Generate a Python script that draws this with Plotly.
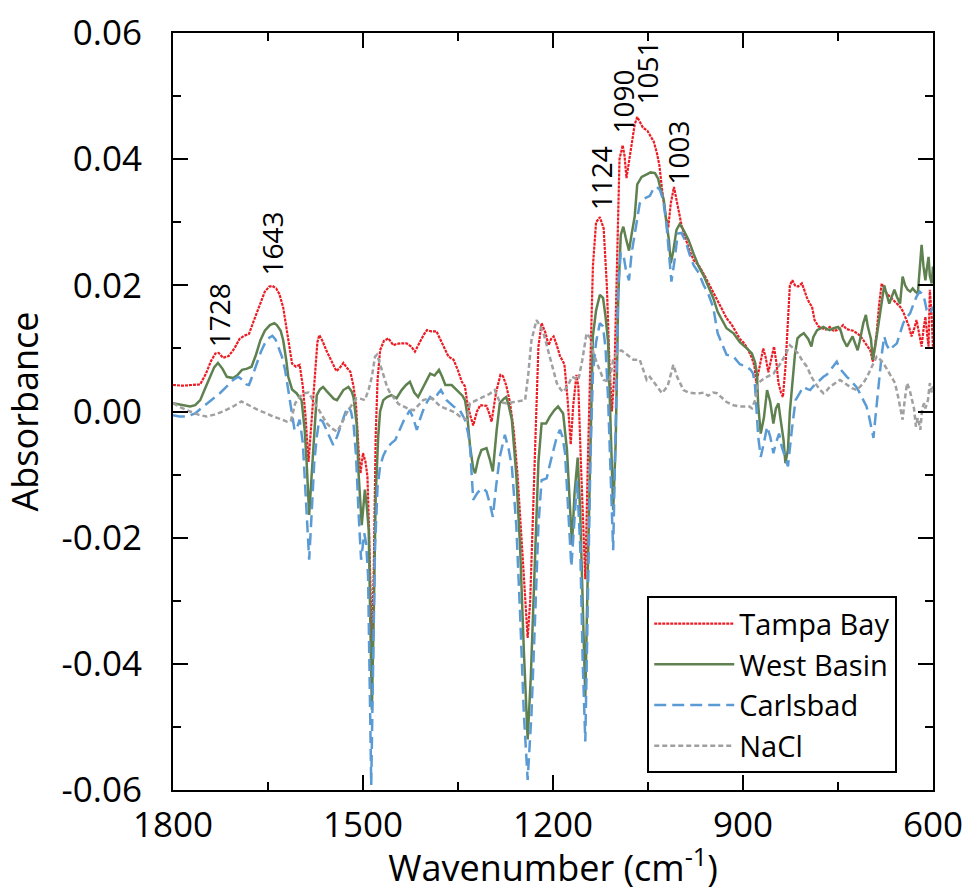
import plotly.graph_objects as go

# ---- spectra (wavenumber in cm-1, absorbance) ----
tampa_wn = [1800, 1785, 1770, 1757, 1748, 1740, 1733, 1728, 1721, 1712, 1703, 1695, 1688, 1680, 1672, 1662, 1655, 1648, 1643, 1637,
            1632, 1626, 1621, 1616, 1612, 1606, 1600, 1595, 1591, 1586, 1581, 1577, 1572, 1569, 1564, 1558, 1550, 1542, 1536, 1531,
            1526, 1520, 1515, 1511, 1507, 1504, 1500, 1496, 1493, 1490, 1486, 1483, 1480, 1477, 1473, 1467, 1460, 1452, 1447, 1441,
            1431, 1424, 1418, 1410, 1404, 1399, 1392, 1384, 1376, 1365, 1357, 1350, 1344, 1339, 1336, 1331, 1326, 1320, 1315, 1305,
            1300, 1297, 1290, 1283, 1279, 1274, 1268, 1262, 1256, 1249, 1244, 1240, 1236, 1231, 1227, 1223, 1218, 1212, 1207, 1203,
            1199, 1194, 1189, 1182, 1177, 1172, 1168, 1163, 1160, 1156, 1152, 1149, 1145, 1141, 1137, 1132, 1126, 1120, 1115, 1111,
            1107, 1103, 1099, 1095, 1090, 1087, 1084, 1080, 1076, 1071, 1067, 1062, 1058, 1051, 1046, 1041, 1036, 1032, 1027, 1022,
            1018, 1014, 1009, 1006, 1002, 997, 990, 984, 978, 970, 962, 955, 947, 940, 932, 926, 918, 910, 905, 898,
            892, 886, 882, 879, 874, 868, 864, 860, 855, 851, 847, 844, 840, 837, 833, 830, 826, 822, 818, 813,
            807, 803, 799, 795, 791, 787, 781, 775, 769, 763, 757, 752, 747, 742, 737, 731, 726, 720, 715, 710,
            704, 699, 695, 692, 689, 685, 681, 677, 673, 668, 663, 657, 652, 647, 642, 638, 634, 630, 626, 622,
            618, 615, 612, 609, 607, 605, 602, 600]
tampa_abs = [0.0042, 0.0041, 0.0042, 0.0043, 0.0060, 0.0080, 0.0092, 0.0093, 0.0085, 0.0088, 0.0100, 0.0115, 0.0120, 0.0123, 0.0145, 0.0172, 0.0190, 0.0198, 0.0199, 0.0195,
             0.0186, 0.0165, 0.0135, 0.0100, 0.0076, 0.0071, 0.0074, 0.0040, -0.0005, -0.0080, -0.0010, 0.0045, 0.0110, 0.0121, 0.0112, 0.0097, 0.0080, 0.0064, 0.0070, 0.0077,
             0.0070, 0.0063, 0.0040, 0.0010, -0.0060, -0.0098, -0.0066, -0.0080, -0.0103, -0.0200, -0.0380, -0.0250, -0.0040, 0.0050, 0.0097, 0.0112, 0.0116, 0.0105, 0.0107, 0.0108,
             0.0108, 0.0103, 0.0095, 0.0111, 0.0122, 0.0129, 0.0127, 0.0127, 0.0110, 0.0087, 0.0082, 0.0065, 0.0047, 0.0040, 0.0018, -0.0005, -0.0022, 0.0000, 0.0010, 0.0009,
             -0.0005, -0.0016, 0.0030, 0.0058, 0.0056, 0.0042, 0.0015, -0.0030, -0.0100, -0.0214, -0.0310, -0.0359, -0.0300, -0.0161, -0.0020, 0.0103, 0.0140, 0.0125, 0.0105, 0.0115,
             0.0119, 0.0105, 0.0088, 0.0075, 0.0020, -0.0052, 0.0010, 0.0058, 0.0040, -0.0080, -0.0200, -0.0266, -0.0080, 0.0080, 0.0230, 0.0300, 0.0308, 0.0290, 0.0200, 0.0080,
             0.0000, 0.0060, 0.0250, 0.0400, 0.0422, 0.0405, 0.0370, 0.0395, 0.0420, 0.0455, 0.0467, 0.0458, 0.0450, 0.0445, 0.0437, 0.0428, 0.0410, 0.0390, 0.0345, 0.0310,
             0.0292, 0.0330, 0.0356, 0.0340, 0.0319, 0.0295, 0.0272, 0.0254, 0.0240, 0.0232, 0.0218, 0.0205, 0.0190, 0.0175, 0.0160, 0.0148, 0.0138, 0.0124, 0.0115, 0.0108,
             0.0098, 0.0085, 0.0072, 0.0045, 0.0070, 0.0100, 0.0085, 0.0062, 0.0085, 0.0103, 0.0075, 0.0045, 0.0030, 0.0023, 0.0070, 0.0124, 0.0200, 0.0208, 0.0200, 0.0198,
             0.0203, 0.0192, 0.0180, 0.0172, 0.0166, 0.0145, 0.0135, 0.0132, 0.0130, 0.0134, 0.0128, 0.0129, 0.0132, 0.0137, 0.0131, 0.0129, 0.0128, 0.0124, 0.0120, 0.0113,
             0.0105, 0.0097, 0.0079, 0.0100, 0.0124, 0.0170, 0.0203, 0.0195, 0.0187, 0.0182, 0.0177, 0.0172, 0.0166, 0.0158, 0.0145, 0.0135, 0.0119, 0.0130, 0.0145, 0.0125,
             0.0103, 0.0130, 0.0150, 0.0120, 0.0103, 0.0193, 0.0150, 0.0100]

west_wn = [1800, 1785, 1773, 1765, 1757, 1750, 1742, 1735, 1729, 1722, 1715, 1705, 1698, 1691, 1683, 1676, 1669, 1662, 1655, 1647,
           1640, 1636, 1630, 1626, 1621, 1618, 1612, 1605, 1597, 1592, 1589, 1585, 1581, 1577, 1573, 1568, 1563, 1557, 1552, 1546,
           1541, 1536, 1531, 1523, 1518, 1515, 1510, 1507, 1502, 1497, 1494, 1491, 1488, 1486, 1483, 1480, 1476, 1473, 1468, 1462,
           1455, 1447, 1439, 1432, 1426, 1419, 1413, 1407, 1402, 1394, 1387, 1380, 1375, 1370, 1360, 1350, 1343, 1339, 1336, 1331,
           1326, 1323, 1318, 1313, 1305, 1300, 1295, 1289, 1284, 1278, 1274, 1270, 1265, 1258, 1252, 1246, 1240, 1235, 1228, 1223,
           1218, 1211, 1205, 1198, 1192, 1184, 1178, 1173, 1170, 1166, 1161, 1157, 1153, 1149, 1145, 1141, 1137, 1132, 1126, 1121,
           1117, 1113, 1109, 1105, 1101, 1097, 1093, 1089, 1085, 1080, 1076, 1071, 1067, 1060, 1052, 1046, 1039, 1034, 1030, 1025,
           1021, 1017, 1014, 1010, 1005, 1000, 994, 986, 978, 970, 962, 955, 947, 940, 932, 926, 915, 905, 894, 886,
           881, 878, 876, 872, 867, 862, 857, 852, 848, 844, 841, 836, 833, 829, 826, 822, 818, 814, 810, 804,
           797, 792, 789, 783, 778, 773, 768, 763, 757, 750, 746, 742, 736, 731, 727, 723, 719, 716, 713, 710,
           706, 703, 698, 695, 691, 686, 681, 677, 673, 669, 665, 661, 657, 652, 648, 644, 640, 636, 632, 628,
           624, 621, 618, 615, 612, 610, 607, 605, 602, 600]
west_abs = [0.0013, 0.0010, 0.0008, 0.0010, 0.0018, 0.0035, 0.0055, 0.0070, 0.0077, 0.0068, 0.0055, 0.0053, 0.0058, 0.0066, 0.0068, 0.0071, 0.0090, 0.0113, 0.0128, 0.0137,
            0.0140, 0.0137, 0.0128, 0.0113, 0.0080, 0.0055, 0.0035, 0.0029, 0.0018, -0.0030, -0.0080, -0.0164, -0.0100, -0.0030, 0.0026, 0.0035, 0.0039, 0.0032, 0.0026, 0.0020,
            0.0018, 0.0025, 0.0034, 0.0039, 0.0032, 0.0023, -0.0020, -0.0098, -0.0180, -0.0124, -0.0150, -0.0188, -0.0350, -0.0473, -0.0320, -0.0135, -0.0040, 0.0000, 0.0018, 0.0023,
            0.0026, 0.0021, 0.0034, 0.0042, 0.0047, 0.0030, 0.0023, 0.0035, 0.0045, 0.0060, 0.0057, 0.0066, 0.0055, 0.0042, 0.0042, 0.0031, 0.0025, 0.0018, 0.0000, -0.0055,
            -0.0090, -0.0098, -0.0075, -0.0061, -0.0058, -0.0075, -0.0095, -0.0030, 0.0013, 0.0020, 0.0023, 0.0010, -0.0013, -0.0100, -0.0214, -0.0380, -0.0520, -0.0420, -0.0214, -0.0080,
            -0.0019, -0.0019, -0.0008, 0.0002, 0.0008, -0.0003, -0.0060, -0.0150, -0.0211, -0.0130, -0.0073, -0.0160, -0.0330, -0.0453, -0.0250, -0.0060, 0.0120, 0.0160, 0.0185, 0.0180,
            0.0150, 0.0110, -0.0020, -0.0156, -0.0050, 0.0180, 0.0280, 0.0293, 0.0275, 0.0255, 0.0280, 0.0309, 0.0360, 0.0372, 0.0376, 0.0379, 0.0378, 0.0369, 0.0352, 0.0335,
            0.0300, 0.0272, 0.0235, 0.0255, 0.0288, 0.0297, 0.0288, 0.0272, 0.0250, 0.0230, 0.0215, 0.0199, 0.0180, 0.0158, 0.0143, 0.0132, 0.0124, 0.0110, 0.0100, 0.0092,
            0.0078, 0.0060, 0.0010, -0.0035, -0.0010, 0.0034, 0.0015, -0.0019, 0.0005, 0.0013, -0.0010, -0.0045, -0.0082, -0.0060, 0.0000, 0.0045, 0.0090, 0.0116, 0.0120, 0.0124,
            0.0115, 0.0103, 0.0118, 0.0129, 0.0132, 0.0134, 0.0131, 0.0129, 0.0132, 0.0134, 0.0129, 0.0115, 0.0103, 0.0112, 0.0119, 0.0108, 0.0097, 0.0110, 0.0124, 0.0140,
            0.0153, 0.0135, 0.0115, 0.0082, 0.0105, 0.0140, 0.0175, 0.0200, 0.0185, 0.0171, 0.0182, 0.0193, 0.0182, 0.0171, 0.0214, 0.0200, 0.0193, 0.0190, 0.0195, 0.0190,
            0.0187, 0.0230, 0.0264, 0.0230, 0.0208, 0.0225, 0.0245, 0.0215, 0.0203, 0.0230, 0.0200]

carlsbad_wn = [1800, 1790, 1778, 1765, 1752, 1740, 1726, 1715, 1705, 1697, 1690, 1684, 1680, 1674, 1668, 1661, 1655, 1648, 1643, 1638,
               1634, 1628, 1623, 1618, 1613, 1608, 1604, 1600, 1595, 1592, 1588, 1585, 1581, 1577, 1573, 1569, 1564, 1560, 1554, 1547,
               1541, 1534, 1528, 1523, 1519, 1515, 1511, 1507, 1503, 1498, 1495, 1492, 1489, 1487, 1484, 1481, 1477, 1473, 1468, 1462,
               1455, 1449, 1442, 1436, 1430, 1426, 1421, 1415, 1410, 1405, 1399, 1394, 1387, 1382, 1377, 1368, 1357, 1347, 1339, 1334,
               1331, 1326, 1320, 1315, 1310, 1305, 1300, 1295, 1290, 1284, 1276, 1270, 1265, 1258, 1252, 1246, 1240, 1234, 1228, 1223,
               1218, 1210, 1204, 1199, 1194, 1189, 1185, 1181, 1176, 1171, 1166, 1162, 1157, 1153, 1149, 1145, 1141, 1137, 1132, 1126,
               1121, 1117, 1113, 1109, 1105, 1101, 1097, 1093, 1089, 1085, 1080, 1076, 1070, 1063, 1057, 1047, 1041, 1036, 1031, 1026,
               1021, 1017, 1013, 1008, 1003, 997, 990, 984, 978, 970, 962, 955, 947, 940, 932, 926, 915, 905, 894, 888,
               884, 881, 876, 872, 867, 862, 857, 852, 848, 843, 839, 834, 829, 823, 817, 810, 805, 799, 794, 789,
               784, 778, 773, 768, 762, 757, 752, 747, 741, 736, 731, 726, 721, 716, 710, 705, 701, 698, 694, 691,
               686, 681, 677, 673, 668, 663, 657, 652, 647, 642, 636, 631, 626, 621, 615, 610, 605, 600]
carlsbad_abs = [-0.0006, -0.0008, -0.0008, -0.0003, 0.0008, 0.0018, 0.0029, 0.0040, 0.0050, 0.0055, 0.0050, 0.0043, 0.0042, 0.0058, 0.0076, 0.0095, 0.0108, 0.0117, 0.0120, 0.0114,
                0.0103, 0.0087, 0.0066, 0.0035, 0.0005, -0.0030, -0.0025, -0.0013, -0.0050, -0.0109, -0.0180, -0.0235, -0.0160, -0.0082, -0.0040, -0.0013, -0.0015, -0.0024, -0.0040, -0.0053,
                -0.0040, -0.0019, -0.0002, 0.0008, 0.0000, -0.0019, -0.0070, -0.0161, -0.0235, -0.0193, -0.0210, -0.0260, -0.0450, -0.0592, -0.0400, -0.0214, -0.0120, -0.0087, -0.0070, -0.0058,
                -0.0050, -0.0045, -0.0029, -0.0015, -0.0005, 0.0002, -0.0010, -0.0029, -0.0012, 0.0002, 0.0015, 0.0023, 0.0018, 0.0028, 0.0034, 0.0018, 0.0008, 0.0002, -0.0013, -0.0035,
                -0.0056, -0.0140, -0.0130, -0.0124, -0.0122, -0.0127, -0.0145, -0.0167, -0.0120, -0.0072, -0.0037, -0.0060, -0.0087, -0.0180, -0.0320, -0.0480, -0.0584, -0.0480, -0.0320, -0.0180,
                -0.0109, -0.0106, -0.0080, -0.0061, -0.0040, -0.0029, -0.0040, -0.0066, -0.0150, -0.0246, -0.0170, -0.0110, -0.0214, -0.0400, -0.0523, -0.0300, -0.0080, 0.0060, 0.0110, 0.0140,
                0.0135, 0.0100, 0.0020, -0.0100, -0.0220, -0.0020, 0.0200, 0.0251, 0.0250, 0.0225, 0.0208, 0.0250, 0.0285, 0.0330, 0.0337, 0.0342, 0.0354, 0.0356, 0.0351, 0.0335, 0.0298,
                0.0250, 0.0206, 0.0240, 0.0282, 0.0283, 0.0268, 0.0248, 0.0232, 0.0220, 0.0200, 0.0187, 0.0165, 0.0124, 0.0105, 0.0090, 0.0087, 0.0075, 0.0071, 0.0066, 0.0060,
                0.0040, -0.0040, -0.0072, -0.0050, -0.0024, -0.0040, -0.0066, -0.0050, -0.0035, -0.0055, -0.0072, -0.0087, -0.0030, 0.0018, 0.0030, 0.0039, 0.0036, 0.0034, 0.0040, 0.0045,
                0.0050, 0.0055, 0.0058, 0.0066, 0.0072, 0.0079, 0.0068, 0.0060, 0.0055, 0.0050, 0.0045, 0.0039, 0.0030, 0.0018, 0.0008, -0.0008, -0.0025, -0.0042, -0.0010, 0.0045,
                0.0090, 0.0119, 0.0105, 0.0097, 0.0103, 0.0108, 0.0125, 0.0140, 0.0148, 0.0156, 0.0170, 0.0182, 0.0190, 0.0185, 0.0161, 0.0155, 0.0166, 0.0160]

nacl_wn = [1800, 1787, 1773, 1760, 1747, 1735, 1721, 1705, 1692, 1680, 1665, 1652, 1642, 1630, 1620, 1614, 1607, 1600, 1594, 1586,
           1580, 1573, 1565, 1557, 1549, 1541, 1534, 1526, 1518, 1510, 1503, 1497, 1491, 1486, 1481, 1478, 1473, 1468, 1462, 1457,
           1452, 1444, 1436, 1428, 1420, 1412, 1405, 1398, 1391, 1384, 1378, 1370, 1362, 1354, 1347, 1340, 1336, 1331, 1320, 1310,
           1300, 1292, 1284, 1274, 1262, 1250, 1244, 1239, 1234, 1226, 1220, 1215, 1205, 1199, 1194, 1188, 1184, 1177, 1170, 1164,
           1160, 1154, 1147, 1140, 1136, 1128, 1120, 1111, 1105, 1097, 1092, 1083, 1073, 1063, 1052, 1047, 1040, 1028, 1019, 1010,
           1004, 994, 986, 978, 968, 962, 955, 947, 941, 934, 926, 915, 905, 896, 890, 886, 880, 876, 870, 862,
           852, 841, 833, 826, 820, 813, 806, 799, 792, 786, 779, 773, 768, 763, 755, 747, 741, 736, 728, 720,
           715, 710, 704, 699, 694, 689, 683, 678, 672, 665, 660, 655, 651, 648, 645, 641, 637, 634, 630, 627,
           624, 620, 617, 614, 612, 608, 605, 602, 600]
nacl_abs = [0.0013, 0.0006, 0.0000, -0.0005, -0.0008, -0.0005, 0.0000, 0.0008, 0.0016, 0.0010, 0.0002, -0.0003, -0.0008, -0.0012, -0.0016, -0.0015, 0.0013, 0.0023, 0.0029, 0.0030,
            0.0020, 0.0008, -0.0005, -0.0019, -0.0027, -0.0032, -0.0020, -0.0003, 0.0010, 0.0021, 0.0020, 0.0018, 0.0035, 0.0055, 0.0087, 0.0090, 0.0075, 0.0060, 0.0039, 0.0029,
            0.0023, 0.0012, 0.0008, 0.0004, 0.0002, 0.0010, 0.0018, 0.0020, 0.0021, 0.0014, 0.0008, 0.0005, 0.0002, -0.0002, -0.0008, -0.0012, -0.0013, 0.0013, 0.0018, 0.0023,
            0.0028, 0.0034, 0.0015, 0.0013, 0.0015, 0.0017, 0.0018, 0.0060, 0.0113, 0.0145, 0.0135, 0.0124, 0.0087, 0.0065, 0.0045, 0.0035, 0.0031, 0.0040, 0.0055, 0.0052,
            0.0050, 0.0080, 0.0124, 0.0115, 0.0092, 0.0070, 0.0050, 0.0047, 0.0082, 0.0095, 0.0097, 0.0090, 0.0082, 0.0082, 0.0050, 0.0055, 0.0045, 0.0029, 0.0040, 0.0074,
            0.0055, 0.0034, 0.0030, 0.0029, 0.0029, 0.0030, 0.0025, 0.0030, 0.0029, 0.0022, 0.0015, 0.0010, 0.0008, 0.0008, 0.0008, 0.0005, 0.0020, 0.0045, 0.0050, 0.0055,
            0.0060, 0.0076, 0.0090, 0.0105, 0.0100, 0.0092, 0.0080, 0.0071, 0.0055, 0.0045, 0.0035, 0.0029, 0.0033, 0.0039, 0.0045, 0.0050, 0.0046, 0.0042, 0.0037, 0.0034,
            0.0040, 0.0045, 0.0055, 0.0066, 0.0077, 0.0087, 0.0082, 0.0076, 0.0066, 0.0055, 0.0045, 0.0023, 0.0005, -0.0013, 0.0015, 0.0045, 0.0035, 0.0023, 0.0005, -0.0024,
            -0.0010, -0.0029, 0.0005, 0.0013, 0.0005, 0.0018, 0.0045, 0.0030, 0.0040]

# ---- peak annotations: wavenumber, label height (absorbance) ----
peak_wn = [1728, 1643, 1124, 1090, 1051, 1003]
peak_label_y = [0.0152, 0.0267, 0.0370, 0.0491, 0.0538, 0.0410]

# ---- axis ticks ----
x_major = [1800, 1500, 1200, 900, 600]
x_minor = [1650, 1350, 1050, 750]
y_major = [-0.06, -0.04, -0.02, 0.00, 0.02, 0.04, 0.06]
y_labels = ["-0.06", "-0.04", "-0.02", "0.00", "0.02", "0.04", "0.06"]
y_minor = [-0.05, -0.03, -0.01, 0.01, 0.03, 0.05]

FONT = "Open Sans"

fig = go.Figure()
fig.add_trace(go.Scatter(x=tampa_wn, y=tampa_abs, mode="lines", name="Tampa Bay",
                         line=dict(color="#ec1c24", width=2.2, dash="3px,1px")))
fig.add_trace(go.Scatter(x=west_wn, y=west_abs, mode="lines", name="West Basin",
                         line=dict(color="#5f8150", width=2.5)))
fig.add_trace(go.Scatter(x=carlsbad_wn, y=carlsbad_abs, mode="lines", name="Carlsbad",
                         line=dict(color="#5b9bd5", width=2.5, dash="12px,6px")))
fig.add_trace(go.Scatter(x=nacl_wn, y=nacl_abs, mode="lines", name="NaCl",
                         line=dict(color="#a0a0a0", width=2.5, dash="5px,3px")))

for wn, yl in zip(peak_wn, peak_label_y):
    fig.add_annotation(x=wn, y=yl, xref="x", yref="y", text=str(wn), showarrow=False,
                       textangle=-90, xanchor="center", yanchor="middle",
                       font=dict(family=FONT, size=28, color="black"))

axis_common = dict(showline=True, linecolor="black", linewidth=2, mirror="ticks",
                   ticks="inside", ticklen=15, tickwidth=2, tickcolor="black",
                   showgrid=False, zeroline=False, ticklabeloverflow="allow", automargin=False,
                   tickfont=dict(family=FONT, size=35, color="black"))

fig.update_xaxes(range=[1800, 600], tickvals=x_major, ticktext=[str(v) for v in x_major],
                 minor=dict(tickvals=x_minor, ticks="inside", ticklen=8, tickwidth=2, tickcolor="black"),
                 title=dict(text="Wavenumber (cm<sup>-1</sup>)", font=dict(family=FONT, size=36, color="black"), standoff=17),
                 ticklabelstandoff=3, **axis_common)
fig.update_yaxes(range=[-0.06, 0.06], tickvals=y_major, ticktext=y_labels,
                 minor=dict(tickvals=y_minor, ticks="inside", ticklen=8, tickwidth=2, tickcolor="black"),
                 title=dict(text="Absorbance", font=dict(family=FONT, size=36, color="black"), standoff=12),
                 ticklabelstandoff=22, **axis_common)

fig.update_layout(
    width=963, height=892,
    margin=dict(l=173, r=30, t=33, b=102, autoexpand=False),
    paper_bgcolor="white", plot_bgcolor="white",
    font=dict(family=FONT, color="black"),
    legend=dict(x=0.624, y=0.256, xanchor="left", yanchor="top",
                bgcolor="white", bordercolor="black", borderwidth=2,
                font=dict(family=FONT, size=29, color="black"),
                itemwidth=80, tracegroupgap=0),
)

fig.write_html("out.html")
